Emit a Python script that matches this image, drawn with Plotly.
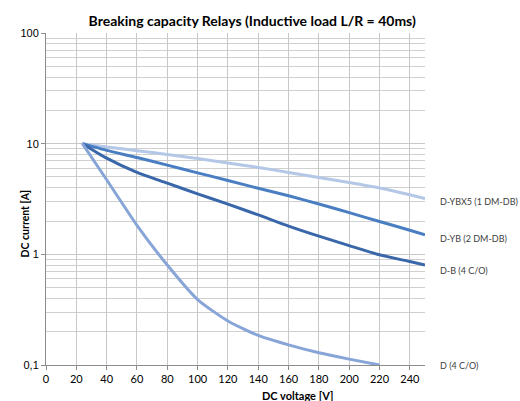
import math
import plotly.graph_objects as go

# Data (DC voltage [V] vs DC current [A])
x_ybx5 = [24, 40, 60, 80, 100, 120, 140, 160, 180, 200, 220, 240, 250]
y_ybx5 = [10, 9.35, 8.65, 8.0, 7.35, 6.7, 6.1, 5.5, 4.95, 4.45, 3.97, 3.45, 3.2]

x_yb = [24, 40, 60, 80, 100, 120, 140, 160, 180, 200, 220, 240, 250]
y_yb = [10, 8.7, 7.5, 6.4, 5.45, 4.65, 3.95, 3.38, 2.85, 2.38, 1.98, 1.65, 1.5]

x_b = [24, 40, 60, 80, 100, 120, 140, 160, 180, 200, 220, 240, 250]
y_b = [10, 7.4, 5.5, 4.4, 3.52, 2.84, 2.27, 1.8, 1.46, 1.2, 0.99, 0.86, 0.8]

x_d = [24, 40, 60, 80, 100, 120, 140, 160, 180, 200, 220]
y_d = [10, 4.72, 1.83, 0.8, 0.39, 0.25, 0.185, 0.152, 0.129, 0.113, 0.1]

series_names = ["D-YBX5 (1 DM-DB)", "D-YB (2 DM-DB)", "D-B (4 C/O)", "D (4 C/O)"]
label_y = [3.0, 1.38, 0.71, 0.1]
colors = ["#B4C7E7", "#4A7EC2", "#3A67AA", "#88A5D8"]

x_ticks = list(range(0, 241, 20))
y_ticks = [0.1, 1, 10, 100]
y_ticktext = ["0,1", "1", "10", "100"]
y_minor = [m * d for d in (0.1, 1, 10) for m in range(2, 10)]

title = "Breaking capacity Relays (Inductive load L/R = 40ms)"
xtitle = "DC voltage [V]"
ytitle = "DC current [A]"

FONT = "Lato, Liberation Sans"

fig = go.Figure()
for xs, ys, c in [(x_ybx5, y_ybx5, colors[0]), (x_yb, y_yb, colors[1]),
                  (x_b, y_b, colors[2]), (x_d, y_d, colors[3])]:
    fig.add_trace(go.Scatter(x=xs, y=ys, mode="lines",
                             line=dict(color=c, width=3, shape="spline", smoothing=0.6),
                             showlegend=False, hoverinfo="skip"))

for name, ly in zip(series_names, label_y):
    fig.add_annotation(x=1.0, xref="paper", xanchor="left", xshift=13,
                       y=math.log10(ly), yref="y", text=name, showarrow=False,
                       font=dict(family=FONT, size=9, color="#404040"))

fig.add_annotation(x=(297 - 46) / 379, xref="paper", y=0, yref="paper", yshift=-30,
                   xanchor="center", yanchor="middle",
                   text="<b>" + xtitle + "</b>", showarrow=False,
                   font=dict(family=FONT, size=11, color="#000000"))
fig.add_annotation(x=0, xref="paper", xshift=-21, y=math.log10(1.9), yref="y", textangle=-90,
                   text="<b>" + ytitle + "</b>", showarrow=False, xanchor="center",
                   font=dict(family=FONT, size=10.5, color="#000000"))

fig.update_layout(
    template="none",
    width=520, height=401,
    margin=dict(l=46, r=95, t=33, b=36, autoexpand=False),
    paper_bgcolor="white", plot_bgcolor="white",
    showlegend=False,
    title=dict(text="<b>" + title + "</b>", x=0.485, xanchor="center", y=0.948, yanchor="middle",
               font=dict(family=FONT, size=14, color="#000000")),
    xaxis=dict(range=[0, 250], tickvals=x_ticks, showgrid=True, gridcolor="#C8C8C8",
               gridwidth=1, zeroline=False, showline=True, linecolor="#8C8C8C",
               ticks="outside", ticklen=4, tickcolor="#8C8C8C", automargin=False,
               tickfont=dict(family=FONT, size=11, color="#000000")),
    yaxis=dict(type="log", range=[-1, 2], tickvals=y_ticks, ticktext=y_ticktext,
               showgrid=True, gridcolor="#C8C8C8", zeroline=False, showline=True,
               linecolor="#8C8C8C", ticks="outside", ticklen=4, tickcolor="#8C8C8C",
               automargin=False,
               tickfont=dict(family="Liberation Sans", size=11, color="#000000"),
               minor=dict(tickvals=y_minor, showgrid=True, gridcolor="#D0D0D0", ticks="")),
)
fig.write_html("out.html", config={"displayModeBar": False},
               post_script="document.body.style.margin='0';")
